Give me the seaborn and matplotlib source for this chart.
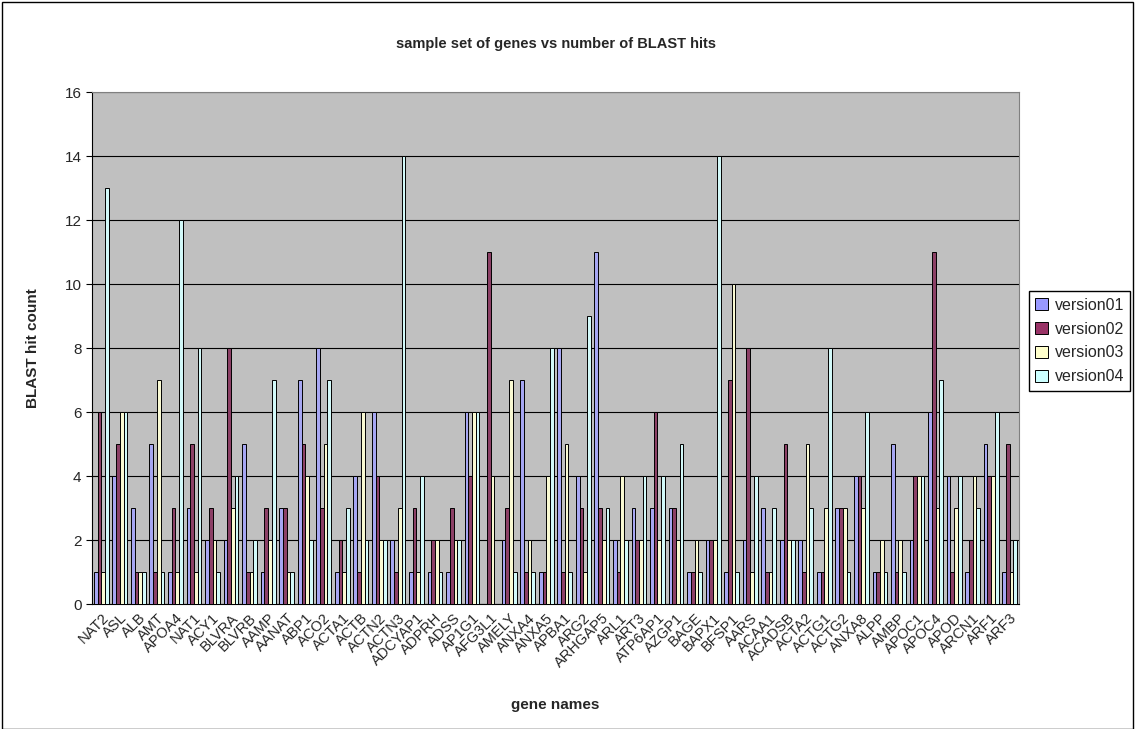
import numpy as np
import pandas as pd
import seaborn as sns
import matplotlib.pyplot as plt
from matplotlib.patches import Rectangle

genes = ['NAT2', 'ASL', 'ALB', 'AMT', 'APOA4', 'NAT1', 'ACY1', 'BLVRA', 'BLVRB', 'AAMP',
         'AANAT', 'ABP1', 'ACO2', 'ACTA1', 'ACTB', 'ACTN2', 'ACTN3', 'ADCYAP1', 'ADPRH', 'ADSS',
         'AP1G1', 'AFG3L1', 'AMELY', 'ANXA4', 'ANXA5', 'APBA1', 'ARG2', 'ARHGAP5', 'ARL1', 'ART3',
         'ATP6AP1', 'AZGP1', 'BAGE', 'BAPX1', 'BFSP1', 'AARS', 'ACAA1', 'ACADSB', 'ACTA2', 'ACTG1',
         'ACTG2', 'ANXA8', 'ALPP', 'AMBP', 'APOC1', 'APOC4', 'APOD', 'ARCN1', 'ARF1', 'ARF3']

version01 = [1, 4, 3, 5, 1, 3, 2, 2, 5, 1, 3, 7, 8, 1, 4, 6, 2, 1, 1, 1,
             6, 0, 2, 7, 1, 8, 4, 11, 2, 3, 3, 3, 1, 2, 1, 2, 3, 2, 2, 1,
             3, 4, 1, 5, 2, 6, 4, 1, 5, 1]
version02 = [6, 5, 1, 1, 3, 5, 3, 8, 1, 3, 3, 5, 3, 2, 1, 4, 1, 3, 2, 3,
             4, 11, 3, 1, 1, 1, 3, 3, 1, 2, 6, 3, 1, 2, 7, 8, 1, 5, 1, 1,
             3, 4, 1, 1, 4, 11, 1, 2, 4, 5]
version03 = [1, 6, 1, 7, 1, 1, 2, 3, 1, 2, 1, 4, 5, 1, 6, 2, 3, 1, 2, 2,
             6, 4, 7, 2, 4, 5, 1, 2, 4, 2, 2, 2, 2, 2, 10, 1, 1, 2, 5, 3,
             3, 3, 2, 2, 4, 3, 3, 4, 4, 1]
version04 = [13, 6, 1, 1, 12, 8, 1, 4, 2, 7, 1, 2, 7, 3, 2, 2, 14, 4, 1, 2,
             6, 0, 1, 1, 8, 1, 9, 3, 2, 4, 4, 5, 1, 14, 1, 4, 3, 2, 3, 8,
             1, 6, 1, 1, 4, 7, 4, 3, 6, 2]

series = {'version01': version01, 'version02': version02,
          'version03': version03, 'version04': version04}
colors = ['#9999FF', '#993366', '#FFFFCC', '#CCFFFF']

df = pd.DataFrame({'gene': genes, **series})
df = df.melt(id_vars='gene', var_name='version', value_name='hits')

sns.set_style('white')
plt.rcParams['font.family'] = ['Liberation Sans', 'DejaVu Sans']

fig = plt.figure(figsize=(11.35, 7.29), dpi=100)
ax = fig.add_axes([92 / 1135, 1 - 604 / 729, (1019 - 92) / 1135, (604 - 92) / 729])

sns.barplot(data=df, x='gene', y='hits', hue='version', order=genes,
            palette=colors, width=0.8, edgecolor='black', linewidth=0.7,
            errorbar=None, ax=ax, zorder=3)

ax.set_facecolor('#C0C0C0')
ax.set_ylim(0, 16)
ax.set_xlim(-0.5, len(genes) - 0.5)
ax.set_yticks(range(0, 17, 2))
ax.yaxis.grid(True, color='black', linewidth=0.8, zorder=0)
ax.set_axisbelow(True)
for s in ax.spines.values():
    s.set_color('#808080')
ax.spines['left'].set_color('black')
ax.spines['bottom'].set_color('black')

ax.set_xticks(np.arange(len(genes) + 1) - 0.5, minor=True)
ax.set_xticks(range(len(genes)))
ax.set_xticklabels(genes, rotation=45, ha='right', rotation_mode='anchor', fontsize=10.5)
ax.tick_params(axis='x', which='major', length=0, pad=5)
ax.tick_params(axis='x', which='minor', length=4, color='black', direction='out')
ax.tick_params(axis='y', length=4, color='black', direction='out', labelsize=11, left=True)

ax.set_xlabel('gene names', fontsize=11, fontweight='bold', labelpad=20)
ax.set_ylabel('BLAST hit count', fontsize=11, fontweight='bold', labelpad=18)
ax.set_title('sample set of genes vs number of BLAST hits', fontsize=10.5,
             fontweight='bold', pad=32)

ax.legend_.remove()
handles = [Rectangle((0, 0), 1, 1, facecolor=c, edgecolor='black', linewidth=0.7) for c in colors]
fig.legend(handles, list(series.keys()), loc='center left',
           bbox_to_anchor=(1029 / 1135, 1 - 341 / 729), fontsize=11.5,
           frameon=True, fancybox=False, edgecolor='black', framealpha=1,
           handlelength=0.8, handleheight=0.8, handletextpad=0.4,
           borderpad=0.4, labelspacing=0.55, borderaxespad=0)

fig.patches.append(Rectangle((2 / 1135, 0), 1131 / 1135, 727 / 729, transform=fig.transFigure,
                             fill=False, edgecolor='black', linewidth=1))

fig.savefig('out.png', dpi=100)
